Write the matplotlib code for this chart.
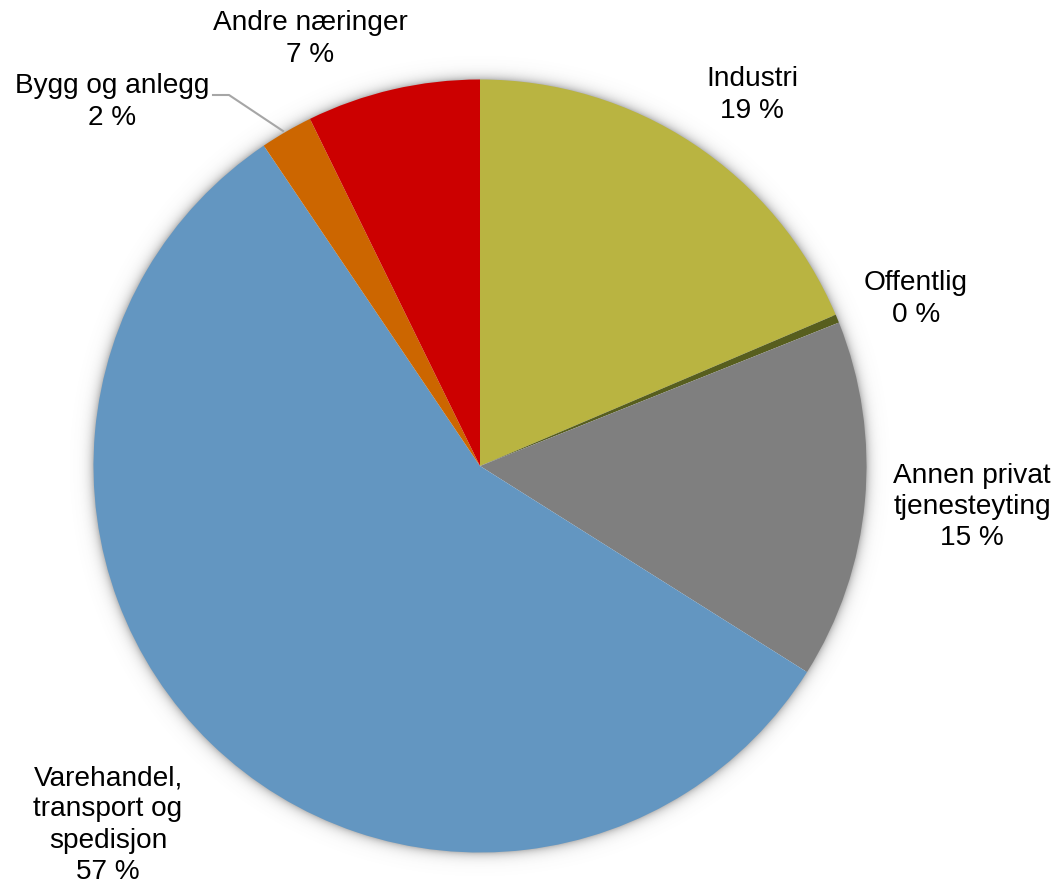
import numpy as np
import matplotlib
matplotlib.use("Agg")
import matplotlib.pyplot as plt

# Sector shares (per cent), clockwise from twelve o'clock
sectors = ["Industri", "Offentlig", "Annen privat\ntjenesteyting",
           "Varehandel,\ntransport og\nspedisjon", "Bygg og anlegg", "Andre næringer"]
shares = [18.6, 0.35, 15.0, 56.6, 2.2, 7.25]
colors = ["#B9B441", "#575E1E", "#7F7F7F", "#6396C1", "#CC6600", "#CC0000"]

W, H = 1055, 885
CX, CY, R = 480, 466, 386.5  # pie centre and radius in pixels

plt.rcParams["font.family"] = ["Liberation Sans", "DejaVu Sans"]

fig = plt.figure(figsize=(W / 100, H / 100), dpi=100)
ax = fig.add_axes([0, 0, 1, 1])


def px(x, y):
    """Pixel position (origin top-left) to data coordinates."""
    return (x - CX) / R, (CY - y) / R


# soft shadow halo around the pie
gx = np.linspace(-CX / R, (W - CX) / R, W)
gy = np.linspace(CY / R, -(H - CY) / R, H)
XX, YY = np.meshgrid(gx, gy)
d = (np.hypot(XX, YY) - 1.0) * R
alpha = np.where(d > -2, np.exp(-np.clip(d, 0, None) / 5.0) * 0.5, 0.0)
shade = np.zeros((H, W, 4))
shade[..., :3] = 0.4
shade[..., 3] = alpha
ax.imshow(shade, extent=(gx[0], gx[-1], gy[-1], gy[0]), zorder=0, interpolation="bilinear")

wedges, _ = ax.pie(shares, colors=colors, startangle=90, counterclock=False,
                   radius=1.0, center=(0, 0), wedgeprops=dict(linewidth=0),
                   frame=True)
for w in wedges:
    w.set_zorder(2)
ax.set_xlim(-CX / R, (W - CX) / R)
ax.set_ylim(-(H - CY) / R, CY / R)
ax.set_aspect("equal")
ax.axis("off")

# label block centres in pixels
label_pos = [(752, 95), (916, 299), (972, 507), (108, 825), (112, 102), (310, 39)]
for name, val, (lx, ly) in zip(sectors, shares, label_pos):
    x, y = px(lx, ly)
    ax.text(x, y, f"{name}\n{round(val):d} %", ha="center", va="center",
            fontsize=20.2, color="#000000", linespacing=1.26, zorder=5)

# leader line for the small construction slice
lx = [px(213, 95)[0], px(229, 95)[0], px(283, 131)[0]]
ly = [px(213, 95)[1], px(229, 95)[1], px(283, 131)[1]]
ax.plot(lx, ly, color="#A6A6A6", lw=1.5, zorder=4)

fig.savefig("out.png", dpi=100, facecolor="white")
